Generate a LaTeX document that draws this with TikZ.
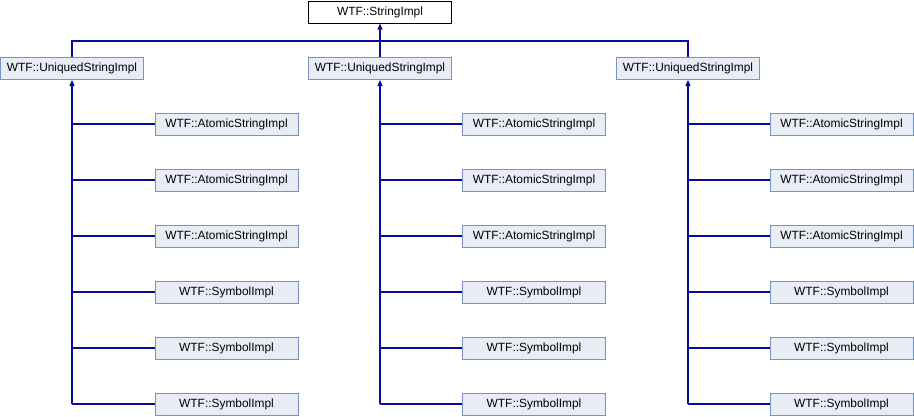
\documentclass[tikz,border=0pt]{standalone}
\usepackage{fontspec}
\setmainfont{Liberation Sans}
\usetikzlibrary{arrows.meta}
\definecolor{boxfill}{HTML}{E8ECF5}
\definecolor{boxline}{HTML}{7B8FC8}
\definecolor{edgecol}{HTML}{0C0C9C}
\tikzset{
  cls/.style={draw=boxline, fill=boxfill, line width=1pt, minimum width=143pt, minimum height=22pt, inner sep=0pt, font=\fontsize{11.9pt}{13pt}\selectfont},
  topcls/.style={cls, draw=black, fill=white},
  edge/.style={draw=edgecol, line width=1.1pt},
  inh/.style={edge, {Triangle[length=6pt,width=5pt]}-}
}
\begin{document}
\begin{tikzpicture}[x=1pt,y=-1pt]
\useasboundingbox (0,0) rectangle (914,416);
\node[topcls] (top) at (380,12) {WTF::StringImpl};
\coordinate (bus) at (380,41);
\foreach \c/\x in {1/72,2/380,3/688} {
  \node[cls] (u\c) at (\x,68.5) {WTF::UniquedStringImpl};
}
\foreach \c/\x in {1/226.5,2/534,3/841.5} {
  \foreach \r/\y/\t in {1/124/AtomicStringImpl,2/180/AtomicStringImpl,3/236/AtomicStringImpl,4/292/SymbolImpl,5/348/SymbolImpl,6/404/SymbolImpl} {
    \node[cls] (c\c\r) at (\x,\y) {WTF::\t};
  }
}
\draw[edge] (u1.north) |- (bus);
\draw[edge] (u3.north) |- (bus);
\draw[edge] (u2.north) -- (bus);
\draw[inh] (top.south) -- (bus);
\foreach \c in {1,2,3} {
  \draw[inh] (u\c.south) -- (u\c.south |- c\c6.west);
  \foreach \r in {1,...,6} {
    \draw[edge] (u\c.south |- c\c\r.west) -- (c\c\r.west);
  }
}
\end{tikzpicture}
\end{document}
